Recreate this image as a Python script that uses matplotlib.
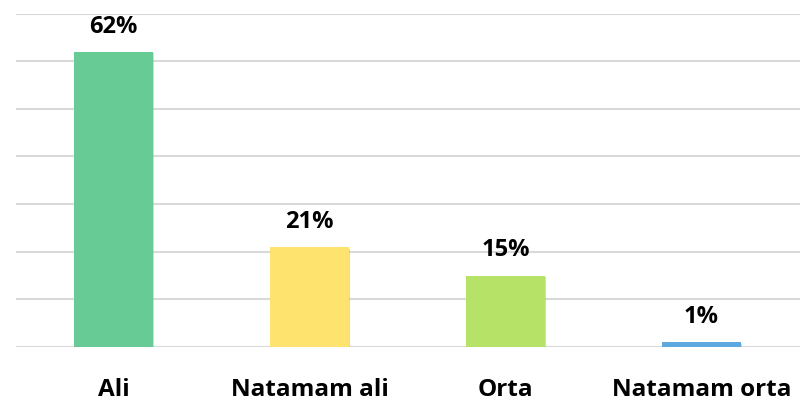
import matplotlib.pyplot as plt
import matplotlib.patheffects as pe

# Datos
categorias = ['Ali', 'Natamam ali', 'Orta', 'Natamam orta']
valores = [62, 21, 15, 1]
colores = ['#66CB95', '#FFE36F', '#B6E267', '#5DA8DE']

plt.rcParams['font.family'] = ['Open Sans', 'DejaVu Sans']

fig = plt.figure(figsize=(8, 4.03), dpi=100)
ax = fig.add_axes([15.5 / 800, 1 - 347 / 403, 784 / 800, 333.5 / 403])

x = range(len(categorias))
barras = ax.bar(x, valores, width=0.40, color=colores, zorder=3)
for b in barras:
    b.set_path_effects([pe.SimplePatchShadow(offset=(1.2, -1.2), shadow_rgbFace='#aaaaaa', alpha=0.45), pe.Normal()])

for xi, v in zip(x, valores):
    ax.text(xi, v + 4, f'{v}%', ha='center', va='baseline', fontsize=17, fontweight='bold')

ax.set_xlim(-0.5, 3.5)
ax.set_ylim(0, 70)
ax.set_yticks(range(0, 71, 10))
ax.yaxis.grid(True, color='#D9D9D9', linewidth=1.5, zorder=0)
ax.tick_params(left=False, labelleft=False, bottom=False)
ax.set_xticks(list(x))
ax.set_xticklabels(categorias, fontsize=17.5, fontweight='bold')
ax.tick_params(axis='x', pad=19)
for s in ax.spines.values():
    s.set_visible(False)

fig.savefig('out.png', dpi=100)
